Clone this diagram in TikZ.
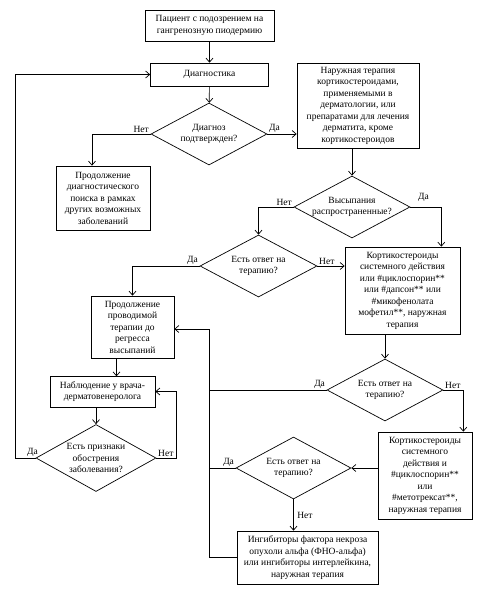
\documentclass[tikz,border=0pt]{standalone}
\usepackage{fontspec}
\setmainfont{Liberation Serif}
\usetikzlibrary{shapes.geometric, arrows.meta, positioning}

\begin{document}
\begin{tikzpicture}[
    x=1pt, y=-1pt,
    font=\fontsize{9.5}{11.5}\selectfont,
    block/.style={rectangle, draw, line width=0.7pt, align=center, inner sep=1pt},
    decision/.style={diamond, draw, line width=0.7pt, align=center, aspect=1.87, inner sep=-4pt, minimum width=116pt, minimum height=62pt},
    arrow/.style={-{Straight Barb[length=4pt, width=7pt]}, line width=0.7pt},
    lbl/.style={inner sep=1.5pt}
]
\useasboundingbox (0,0) rectangle (484,595);

% Top: patient and diagnostics
\node[block, minimum width=129pt, minimum height=31pt] (patient) at (209.5,25.5) {Пациент с подозрением на\\гангренозную пиодермию};
\node[block, minimum width=118pt, minimum height=23pt] (diagn) at (209.5,74.5) {Диагностика};
\node[decision] (confirmed) at (209,134) {Диагноз\\подтвержден?};
\node[block, minimum width=94pt, minimum height=64pt] (search) at (103,198) {Продолжение\\диагностического\\поиска в рамках\\других возможных\\заболеваний};
\node[block, minimum width=122pt, minimum height=85pt] (topical) at (358,105.5) {Наружная терапия\\кортикостероидами,\\применяемыми в\\дерматологии, или\\препаратами для лечения\\дерматита, кроме\\кортикостероидов};

% Middle: spread and first response
\node[decision] (spread) at (352,207) {Высыпания\\распространенные?};
\node[decision, minimum width=117pt] (resp1) at (258.5,266) {Есть ответ на\\терапию?};
\node[block, minimum width=115pt, minimum height=87pt] (system1) at (402.5,290.5) {Кортикостероиды\\системного действия\\или \#циклоспорин**\\или \#дапсон** или\\\#микофенолата\\мофетил**, наружная\\терапия};
\node[block, minimum width=83pt, minimum height=62pt] (continue) at (132.5,327) {Продолжение\\проводимой\\терапии до\\регресса\\высыпаний};

% Left: follow-up
\node[block, minimum width=105pt, minimum height=31pt] (observe) at (102.5,391.5) {Наблюдение у врача-\\дерматовенеролога};
\node[decision, minimum width=120pt, minimum height=67pt] (relapse) at (96,458) {Есть признаки\\обострения\\заболевания?};

% Right: second and third line
\node[decision] (resp2) at (385,390) {Есть ответ на\\терапию?};
\node[block, minimum width=94pt, minimum height=87pt] (system2) at (425,475.5) {Кортикостероиды\\системного\\действия и\\\#циклоспорин**\\или\\\#метотрексат**,\\наружная терапия};
\node[decision, minimum width=115pt] (resp3) at (293.5,468) {Есть ответ на\\терапию?};
\node[block, minimum width=141pt, minimum height=53pt] (biologic) at (307.5,557.5) {Ингибиторы фактора некроза\\опухоли альфа (ФНО-альфа)\\или ингибиторы интерлейкина,\\наружная терапия};

\coordinate (trunk) at (209,329);

% Arrows
\draw[arrow] (patient) -- (diagn);
\draw[arrow] (diagn) -- (confirmed);
\draw[arrow] (confirmed.west) node[lbl, above left] {Нет} -| ([xshift=-11pt]search.north);
\draw[arrow] (confirmed.east) node[lbl, above right] {Да} -- (confirmed.east -| topical.west);
\draw[arrow] (spread.north |- topical.south) -- (spread.north);
\draw[arrow] (spread.west) node[lbl, above left] {Нет} -| (resp1.north);
\draw[arrow] (spread.east) node[lbl, above right, xshift=6pt, yshift=4pt] {Да} -| ([xshift=-19pt]system1.north east);
\draw[arrow] (resp1.west) node[lbl, above left] {Да} -| (continue.north);
\draw[arrow] (resp1.east) node[lbl, above right] {Нет} -- (resp1.east -| system1.west);
\draw[arrow] (resp2.north |- system1.south) -- (resp2.north);
\draw[arrow] (resp2.east) node[lbl, above right] {Нет} -| ([xshift=-9pt]system2.north east);
\draw (resp2.west) node[lbl, above left] {Да} -- (resp2.west -| trunk);
\draw[arrow] (system2.west |- resp3.east) -- (resp3.east);
\draw (resp3.west) node[lbl, above left] {Да} -- (resp3.west -| trunk);
\draw[arrow] (resp3.south) -- node[lbl, right, xshift=2pt] {Нет} (resp3.south |- biologic.north);
\draw[arrow] (biologic.west) -| (trunk) -- (trunk -| continue.east);
\draw[arrow] ([xshift=-16pt]continue.south) -- ++(0,18);
\draw[arrow] (relapse.north |- observe.south) -- (relapse.north);
\draw[arrow] (relapse.west) node[lbl, above left, xshift=4pt] {Да} -- ++(-20,0) |- (diagn.west);
\draw[arrow] (relapse.east) node[lbl, above right] {Нет} -- ++(20,0) |- (observe.east);

\end{tikzpicture}
\end{document}
